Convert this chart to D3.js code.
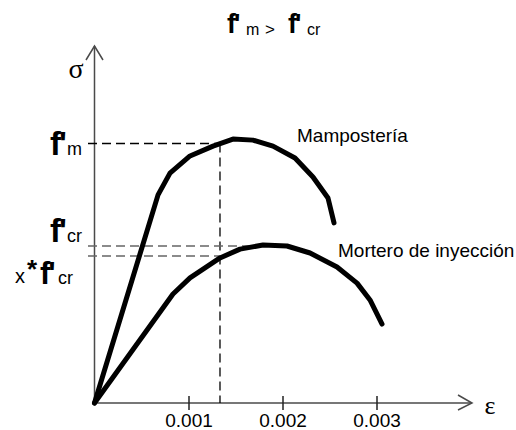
<!DOCTYPE html>
<html>
<head>
<meta charset="utf-8">
<script src="https://cdn.jsdelivr.net/npm/d3@7"></script>
<style>
  body { margin: 0; background: #fff; }
  svg { display: block; }
  text { font-family: "Liberation Sans", Arial, sans-serif; fill: #000; }
  .serif { font-family: "Liberation Serif", "Times New Roman", serif; }
</style>
</head>
<body>
<svg id="chart" width="516" height="430"></svg>
<script>
// Strain ticks on the horizontal axis
const strainTicks = [0.001, 0.002, 0.003];

// Masonry curve (normalised stress, f'm = 1)
const mampStrain = [0, 0.000676, 0.000803, 0.001016, 0.001261, 0.001473, 0.001686, 0.001899, 0.002133, 0.002324, 0.002484, 0.002548];
const mampStress = [0, 0.802, 0.886, 0.952, 0.990, 1.017, 1.013, 0.990, 0.944, 0.871, 0.790, 0.694];

// Grout curve
const mortStrain = [0, 0.000835, 0.001016, 0.001335, 0.001548, 0.001793, 0.002048, 0.002293, 0.002580, 0.002793, 0.002931, 0.003059];
const mortStress = [0, 0.420, 0.482, 0.559, 0.593, 0.609, 0.605, 0.578, 0.524, 0.462, 0.397, 0.304];

// Reference stress levels
const fm = 1.0;
const fcr = 0.605;
const xfcr = 0.566;
const strainAtFm = 0.001335;
const strainAtFcr = 0.001650;

const svg = d3.select('#chart');

const x = d3.scaleLinear().domain([0, 0.004]).range([94.5, 470.5]);
const y = d3.scaleLinear().domain([0, 1]).range([403, 143.5]);

const axisColor = '#4a4a4a';

// axes
svg.append('line')
    .attr('x1', x(0)).attr('x2', 472)
    .attr('y1', y(0)).attr('y2', y(0))
    .attr('stroke', axisColor).attr('stroke-width', 1.5);
svg.append('line')
    .attr('x1', x(0)).attr('x2', x(0))
    .attr('y1', y(0)).attr('y2', 46)
    .attr('stroke', axisColor).attr('stroke-width', 1.5);

// open arrow heads
svg.append('path')
    .attr('d', `M458,395 L472,${y(0)} L458,410`)
    .attr('fill', 'none').attr('stroke', axisColor).attr('stroke-width', 1.5);
svg.append('path')
    .attr('d', `M86,60 L${x(0)},46 L103,60`)
    .attr('fill', 'none').attr('stroke', axisColor).attr('stroke-width', 1.5);

// x ticks via d3 axis
const xAxis = d3.axisBottom(x)
    .tickValues(strainTicks)
    .tickSize(7)
    .tickFormat(d3.format('.3f'));
const gx = svg.append('g')
    .attr('transform', `translate(0,${y(0)})`)
    .call(xAxis);
gx.select('.domain').remove();
gx.selectAll('.tick line')
    .attr('y1', -7).attr('y2', 7)
    .attr('stroke', '#222').attr('stroke-width', 1.5);
gx.selectAll('.tick text')
    .attr('y', 11)
    .style('font-family', '"Liberation Sans", Arial, sans-serif')
    .style('font-size', '19px')
    .attr('fill', '#000');

// dashed guide lines
svg.append('line')
    .attr('x1', 88).attr('x2', x(strainAtFm))
    .attr('y1', y(fm)).attr('y2', y(fm))
    .attr('stroke', '#000').attr('stroke-width', 1.3)
    .attr('stroke-dasharray', '9,5');
svg.append('line')
    .attr('x1', x(strainAtFm)).attr('x2', x(strainAtFm))
    .attr('y1', y(fm)).attr('y2', y(0))
    .attr('stroke', '#000').attr('stroke-width', 1.3)
    .attr('stroke-dasharray', '9,5');
svg.append('line')
    .attr('x1', 88).attr('x2', x(strainAtFcr))
    .attr('y1', y(fcr)).attr('y2', y(fcr))
    .attr('stroke', '#666').attr('stroke-width', 1.5)
    .attr('stroke-dasharray', '9,5');
svg.append('line')
    .attr('x1', 88).attr('x2', x(strainAtFm))
    .attr('y1', y(xfcr)).attr('y2', y(xfcr))
    .attr('stroke', '#666').attr('stroke-width', 1.5)
    .attr('stroke-dasharray', '9,5');

// curves
const line = d3.line()
    .x(d => x(d[0]))
    .y(d => y(d[1]))
    .curve(d3.curveLinear);

svg.append('path')
    .datum(d3.zip(mampStrain, mampStress))
    .attr('d', line)
    .attr('fill', 'none').attr('stroke', '#000')
    .attr('stroke-width', 5).attr('stroke-linejoin', 'round').attr('stroke-linecap', 'round');
svg.append('path')
    .datum(d3.zip(mortStrain, mortStress))
    .attr('d', line)
    .attr('fill', 'none').attr('stroke', '#000')
    .attr('stroke-width', 5).attr('stroke-linejoin', 'round').attr('stroke-linecap', 'round');

// curve labels
svg.append('text').attr('x', 297).attr('y', 142)
    .style('font-size', '19px').text('Mampostería');
svg.append('text').attr('x', 338).attr('y', 257)
    .style('font-size', '19px').text('Mortero de inyección');

// axis symbols
svg.append('text').attr('class', 'serif').attr('x', 76).attr('y', 78)
    .attr('text-anchor', 'middle').style('font-size', '28px').text('σ');
svg.append('text').attr('class', 'serif').attr('x', 490).attr('y', 414)
    .attr('text-anchor', 'middle').style('font-size', '26px').text('ε');

// helper for f' with subscript
function fLabel(fx, base, big, sx, sub, small, sBase) {
    svg.append('text').attr('x', fx).attr('y', base)
        .style('font-size', big + 'px').style('font-weight', 'bold')
        .style('letter-spacing', '-2px').text("f'");
    svg.append('text').attr('x', sx).attr('y', sBase)
        .style('font-size', small + 'px').text(sub);
}

// title
fLabel(227, 33, 27, 246, 'm', 16, 35);
svg.append('text').attr('x', 265).attr('y', 35)
    .style('font-size', '17px').text('>');
fLabel(288, 33, 27, 307, 'cr', 16, 35);

// left stress labels
fLabel(50, 155, 33, 67, 'm', 18, 155);
fLabel(50, 242, 33, 67, 'cr', 18, 242);
svg.append('text').attr('x', 15).attr('y', 283)
    .style('font-size', '20px').text('x');
svg.append('text').attr('x', 27).attr('y', 278)
    .style('font-size', '26px').style('font-weight', 'bold').text('*');
fLabel(40, 284, 31, 58, 'cr', 18, 284);
</script>
</body>
</html>
